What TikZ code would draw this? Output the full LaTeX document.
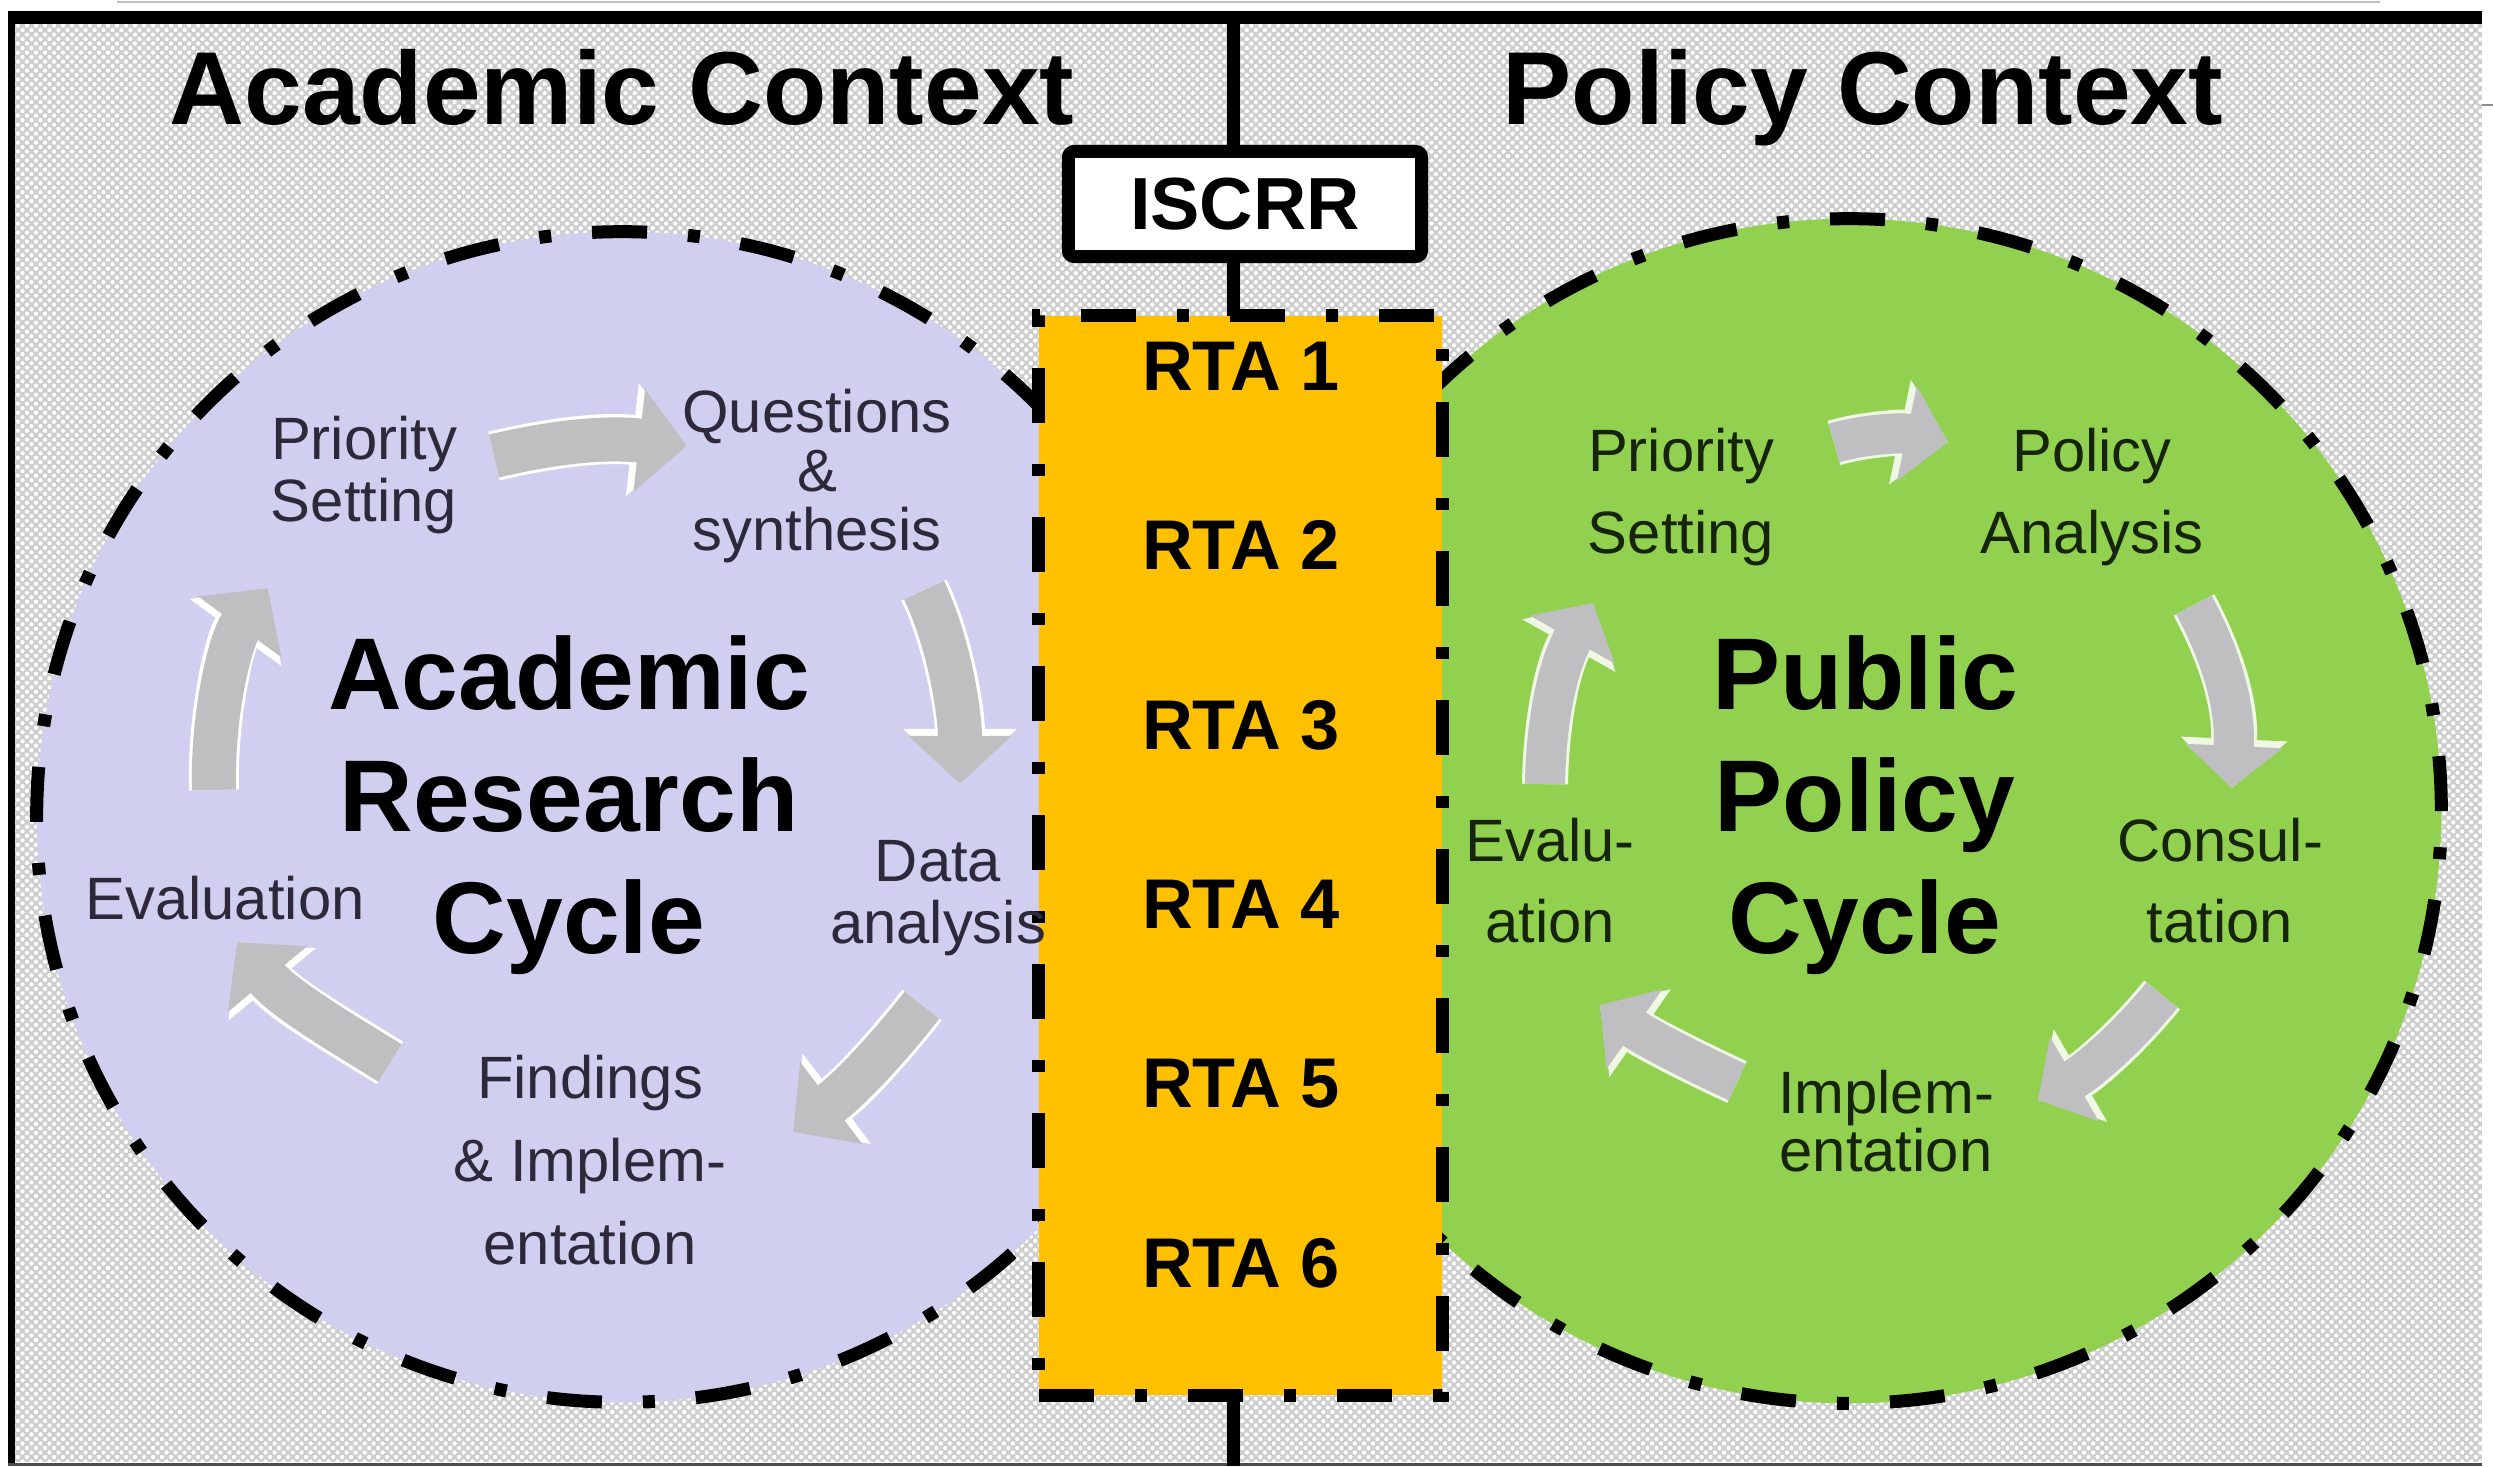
\documentclass[tikz,border=0pt]{standalone}
\usepackage{fontspec}
\setmainfont{Liberation Sans}
\usetikzlibrary{arrows.meta,patterns}
\definecolor{bggrey}{RGB}{206,206,206}
\definecolor{lav}{RGB}{208,207,240}
\definecolor{pgreen}{RGB}{146,208,80}
\definecolor{rtaorange}{RGB}{255,192,0}
\definecolor{arrgrey}{RGB}{191,191,193}
\definecolor{ltext}{RGB}{45,40,58}
\definecolor{rtext}{RGB}{22,36,12}
\pgfdeclarepatternformonly{bgdots}{\pgfqpoint{-0.8pt}{-0.8pt}}{\pgfqpoint{2.1pt}{2.1pt}}{\pgfqpoint{2.56pt}{2.56pt}}{%
  \pgfpathcircle{\pgfqpoint{0pt}{0pt}}{0.62pt}%
  \pgfpathcircle{\pgfqpoint{1.28pt}{1.28pt}}{0.62pt}%
  \pgfusepath{fill}}
\newcommand\cycarrow[5]{%
  \draw[#1back] #2 .. controls #3 and #4 .. #5;
  \draw[#1front] #2 .. controls #3 and #4 .. #5;}
\begin{document}
\begin{tikzpicture}[x=0.01cm,y=-0.01cm,
  ctitle/.style={font=\fontsize{29.5}{35}\selectfont\bfseries, anchor=base, inner sep=0pt},
  lbl/.style={align=center, font=\fontsize{17}{#1}\selectfont, inner sep=0pt},
  lbl/.default=17.6,
  bigl/.style={align=center, font=\fontsize{29}{34.6}\selectfont\bfseries, inner sep=0pt},
  rtalbl/.style={font=\fontsize{20}{24}\selectfont\bfseries, inner sep=0pt},
  dashdot/.style={line width=0.13cm, dash pattern=on 0.55cm off 0.41cm on 0.12cm off 0.41cm},
  lback/.style={draw=white, line width=0.50cm, -{Triangle[width=1.10cm,length=0.55cm]}},
  lfront/.style={draw=arrgrey, line width=0.44cm, -{Triangle[width=1.00cm,length=0.48cm]}},
  rback/.style={draw=white!85!pgreen, line width=0.46cm, -{Triangle[width=1.04cm,length=0.49cm]}},
  rfront/.style={draw=arrgrey, line width=0.40cm, -{Triangle[width=0.95cm,length=0.42cm]}}
]
\useasboundingbox (0,0) rectangle (2493,1466);
% background
\fill[bggrey] (15,23) rectangle (2482,1462);
\fill[pattern=bgdots, pattern color=white] (15,23) rectangle (2482,1462);
% frame
\draw[black!25, line width=0.02cm] (117,1.5) -- (2380,1.5);
\draw[black!45, line width=0.02cm] (2482,105) -- (2493,105);
\draw[line width=0.13cm] (8,17) -- (2482,17);
\draw[line width=0.075cm] (11.5,10.5) -- (11.5,1466);
\draw[black!70, line width=0.03cm] (8,1464.5) -- (2482,1464.5);
% centre line
\coordinate (ctop) at (1233,17);
\coordinate (cbot) at (1233,1466);
\draw[line width=0.13cm] (ctop) -- (cbot);
% titles
\node[ctitle] (tacad) at (622,124) {Academic Context};
\node[ctitle] (tpol) at (1863,124) {Policy Context};
% circles
\node[circle, draw=black, dashdot, fill=lav, minimum size=11.7cm, inner sep=0pt] (acad) at (622,817) {};
\node[circle, draw=black, dashdot, fill=pgreen, minimum size=11.84cm, inner sep=0pt] (pol) at (1849,811) {};
% left cycle arrows
\coordinate (a1s) at (494,456); \coordinate (a1e) at (687,446);
\coordinate (a2s) at (924,590); \coordinate (a2e) at (960,784);
\coordinate (a3s) at (922,1005); \coordinate (a3e) at (793,1132);
\coordinate (a4s) at (390,1063); \coordinate (a4e) at (237,942);
\coordinate (a5s) at (214,790); \coordinate (a5e) at (268,588);
\cycarrow{l}{(a1s)}{(545,444)}{(600,436)}{(a1e)}
\cycarrow{l}{(a2s)}{(948,640)}{(960,710)}{(a2e)}
\cycarrow{l}{(a3s)}{(895,1040)}{(855,1085)}{(a3e)}
\cycarrow{l}{(a4s)}{(345,1035)}{(285,1000)}{(a4e)}
\cycarrow{l}{(a5s)}{(212,715)}{(230,640)}{(a5e)}
% right cycle arrows
\coordinate (b1s) at (1834,443); \coordinate (b1e) at (1948,442);
\coordinate (b2s) at (2194,605); \coordinate (b2e) at (2232,788);
\coordinate (b3s) at (2162,995); \coordinate (b3e) at (2038,1100);
\coordinate (b4s) at (1737,1082); \coordinate (b4e) at (1600,1005);
\coordinate (b5s) at (1545,784); \coordinate (b5e) at (1593,603);
\cycarrow{r}{(b1s)}{(1860,435)}{(1900,432)}{(b1e)}
\cycarrow{r}{(b2s)}{(2218,650)}{(2236,700)}{(b2e)}
\cycarrow{r}{(b3s)}{(2130,1035)}{(2090,1070)}{(b3e)}
\cycarrow{r}{(b4s)}{(1700,1065)}{(1650,1040)}{(b4e)}
\cycarrow{r}{(b5s)}{(1546,720)}{(1558,665)}{(b5e)}
% ISCRR box
\node[draw=black, line width=0.13cm, fill=white, rounded corners=0.06cm, minimum width=3.53cm, minimum height=1.05cm, inner sep=0pt, font=\fontsize{21}{25}\selectfont\bfseries] (iscrr) at (1245,204) {ISCRR};
% RTA box
\node[draw=black, dashdot, fill=rtaorange, minimum width=4.03cm, minimum height=10.79cm, inner sep=0pt] (rtabox) at (1240.5,855.5) {};
\node[rtalbl] (rta1) at (1241,366) {RTA 1};
\node[rtalbl] (rta2) at (1241,545) {RTA 2};
\node[rtalbl] (rta3) at (1241,725) {RTA 3};
\node[rtalbl] (rta4) at (1241,904) {RTA 4};
\node[rtalbl] (rta5) at (1241,1084) {RTA 5};
\node[rtalbl] (rta6) at (1241,1263) {RTA 6};
% left cycle labels
\node[lbl, text=ltext] (lprio) at (364,475) {Priority\\Setting};
\node[lbl=16.9, text=ltext] (lques) at (817,476) {Questions\\\&\\synthesis};
\node[lbl, text=ltext] (ldata) at (938,898) {Data\\analysis};
\node[lbl, text=ltext] (leval) at (225,898) {Evaluation};
\node[lbl=23.5, text=ltext] (lfind) at (590,1160) {Findings\\\& Implem-\\entation};
\node[bigl] (lcyc) at (569,805) {Academic\\Research\\Cycle};
% right cycle labels
\node[lbl=23.3, text=rtext] (rprio) at (1681,497) {Priority\\Setting};
\node[lbl=23.3, text=rtext] (rpola) at (2092,497) {Policy\\Analysis};
\node[lbl=23, text=rtext] (rcons) at (2220,881) {Consul-\\tation};
\node[lbl=16.5, text=rtext] (rimpl) at (1886,1121) {Implem-\\entation};
\node[lbl=23, text=rtext] (reval) at (1550,881) {Evalu-\\ation};
\node[bigl] (rcyc) at (1865,805) {Public\\Policy\\Cycle};
\end{tikzpicture}
\end{document}
